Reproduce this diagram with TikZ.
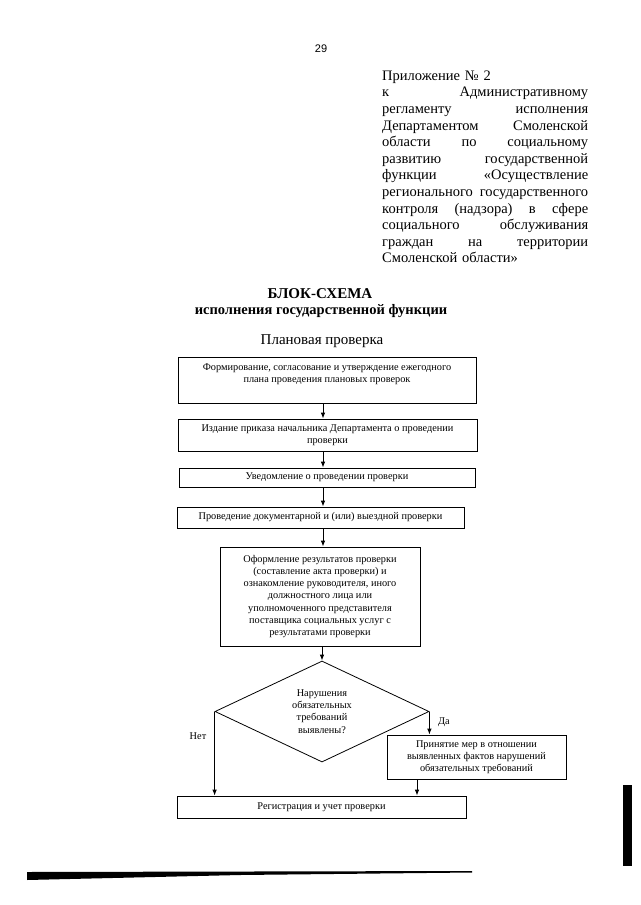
\documentclass[tikz,border=0pt]{standalone}
\usepackage{fontspec}
\setmainfont{Liberation Serif}
\newfontfamily\pgnum{Liberation Sans}
\usetikzlibrary{arrows.meta,shapes.geometric,calc}
\begin{document}
\begin{tikzpicture}[x=1pt,y=-1pt,
  boxfont/.style={font=\fontsize{10.3}{12.2}\selectfont},
  box/.style={draw, line width=0.8pt, inner sep=0pt, align=center, boxfont},
  boxtxt/.style={inner sep=0pt, align=center, boxfont},
  arr/.style={line width=0.8pt, -{Latex[length=6pt,width=4.5pt]}},
  lbl/.style={inner sep=0pt, boxfont}]
\useasboundingbox (0,0) rectangle (640,905);
\fill[white] (0,0) rectangle (640,905);

% page number
\node[font=\pgnum\fontsize{11}{13}\selectfont, inner sep=0pt] (pg) at (321,49) {29};

% annex text
\node[anchor=north west, inner sep=0pt, text width=206pt, align=left,
      font=\fontsize{14.5}{16.6}\selectfont] (annex) at (382,70.5)
{Приложение №~2\\
к\hfill Административному\\
регламенту\hfill исполнения\\
Департаментом\hfill Смоленской\\
области\hfill по\hfill социальному\\
развитию\hfill государственной\\
функции\hfill «Осуществление\\
регионального\hfill государственного\\
контроля\hfill (надзора)\hfill в\hfill сфере\\
социального\hfill обслуживания\\
граждан\hfill на\hfill территории\\
Смоленской области»};

% titles
\node[font=\bfseries\fontsize{15}{18}\selectfont, inner sep=0pt] (t1) at (320,294) {БЛОК-СХЕМА};
\node[font=\bfseries\fontsize{14.5}{18}\selectfont, inner sep=0pt] (t2) at (321,311) {исполнения государственной функции};
\node[font=\fontsize{15}{18}\selectfont, inner sep=0pt] (plan) at (322,341) {Плановая проверка};

% boxes
\node[box, minimum width=298pt, minimum height=46pt] (b1) at (327,380) {};
\node[boxtxt, anchor=north] (b1t) at ([yshift=-6.5pt]b1.north)
  {Формирование, согласование и утверждение ежегодного\\плана проведения плановых проверок};
\node[box, minimum width=299pt, minimum height=32pt] (b2) at (327.5,435)
  {Издание приказа начальника Департамента о проведении\\проверки};
\node[box, minimum width=296pt, minimum height=19pt] (b3) at (327,477.5)
  {Уведомление о проведении проверки};
\node[box, minimum width=287pt, minimum height=21pt] (b4) at (320.5,517.5)
  {Проведение документарной и (или) выездной проверки};
\node[box, minimum width=200pt, minimum height=99pt] (b5) at (320,596.5)
  {Оформление результатов проверки\\(составление акта проверки) и\\ознакомление руководителя, иного\\должностного лица или\\уполномоченного представителя\\поставщика социальных услуг с\\результатами проверки};
\node[box, diamond, shape aspect=2.12, minimum width=214pt, minimum height=101pt] (d) at (322,711.5)
  {Нарушения\\обязательных\\требований\\выявлены?};
\node[box, minimum width=179pt, minimum height=44pt] (pm) at (476.5,757)
  {Принятие мер в отношении\\выявленных фактов нарушений\\обязательных требований};
\node[box, minimum width=289pt, minimum height=22pt] (reg) at (321.5,807)
  {Регистрация и учет проверки};

% labels
\node[lbl] (no) at (198,736) {Нет};
\node[lbl] (yes) at (444,722) {Да};

% connectors
\coordinate (ax) at (323,0);
\coordinate (ax2) at (417,0);
\draw[arr] (b1.south -| ax) -- (b2.north -| ax);
\draw[arr] (b2.south -| ax) -- (b3.north -| ax);
\draw[arr] (b3.south -| ax) -- (b4.north -| ax);
\draw[arr] (b4.south -| ax) -- (b5.north -| ax);
\draw[arr] (b5.south -| d.north) -- (d.north);
\draw[arr] (d.west) -- (d.west |- reg.north);
\draw[arr] (d.east) -- (d.east |- pm.north);
\draw[arr] (pm.south -| ax2) -- (ax2 |- reg.north);

% scan marks
\fill[black] (27,872) -- (472,871) -- (472,872.5) -- (240,875) -- (27,880) -- cycle;
\fill[black] (623,785) rectangle (632,866);
\end{tikzpicture}
\end{document}
